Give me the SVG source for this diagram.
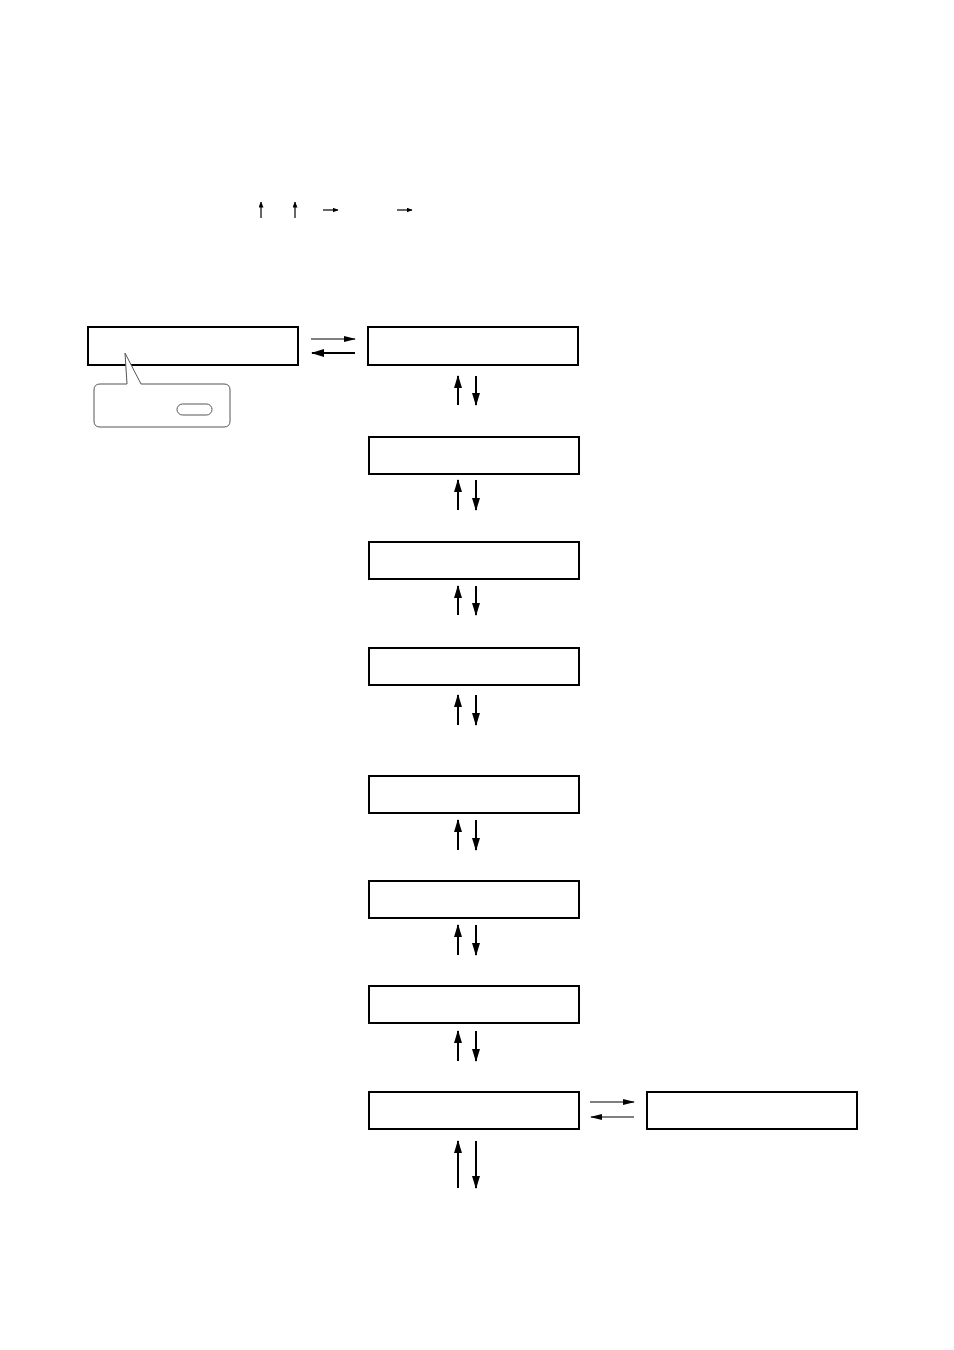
<svg xmlns="http://www.w3.org/2000/svg" width="954" height="1350" viewBox="0 0 954 1350">
<style>
.box{fill:#fff;stroke:#000;stroke-width:2}
.ln{stroke:#000;stroke-width:2;fill:none}
.th{stroke:#000;stroke-width:1.2;fill:none}
.call{fill:#fff;stroke:#555;stroke-width:1}
</style>
<defs>
<marker id="ah" viewBox="0 0 13 8" refX="12" refY="4" markerWidth="13" markerHeight="8" orient="auto" markerUnits="userSpaceOnUse"><path d="M0,0 L13,4 L0,8 z" fill="#000"/></marker>
<marker id="aht" viewBox="0 0 12 6" refX="11" refY="3" markerWidth="12" markerHeight="6" orient="auto" markerUnits="userSpaceOnUse"><path d="M0,0 L12,3 L0,6 z" fill="#000"/></marker>
<marker id="ahs" viewBox="0 0 6 5" refX="5.5" refY="2.5" markerWidth="6" markerHeight="5" orient="auto" markerUnits="userSpaceOnUse"><path d="M0,0 L6,2.5 L0,5 z" fill="#000"/></marker>
</defs>
<g id="legend">
<line class="th" x1="261" y1="218" x2="261" y2="202" marker-end="url(#ahs)"/>
<line class="th" x1="295" y1="218" x2="295" y2="202" marker-end="url(#ahs)"/>
<line class="th" x1="323" y1="210" x2="338" y2="210" marker-end="url(#ahs)"/>
<line class="th" x1="397" y1="210" x2="412" y2="210" marker-end="url(#ahs)"/>
</g>
<g id="n0"><rect class="box" x="88" y="327" width="210" height="38"/></g>
<g id="callout">
<path class="call" d="M100,384 H127 L125,353 L141,384 H224 Q230,384 230,390 V421 Q230,427 224,427 H100 Q94,427 94,421 V390 Q94,384 100,384 Z"/>
<rect class="call" x="177" y="404" width="35" height="11" rx="5.5"/>
</g>
<g id="n1"><rect class="box" x="368" y="327" width="210" height="38"/></g>
<g id="n2"><rect class="box" x="369" y="437" width="210" height="37"/></g>
<g id="n3"><rect class="box" x="369" y="542" width="210" height="37"/></g>
<g id="n4"><rect class="box" x="369" y="648" width="210" height="37"/></g>
<g id="n5"><rect class="box" x="369" y="776" width="210" height="37"/></g>
<g id="n6"><rect class="box" x="369" y="881" width="210" height="37"/></g>
<g id="n7"><rect class="box" x="369" y="986" width="210" height="37"/></g>
<g id="n8"><rect class="box" x="369" y="1092" width="210" height="37"/></g>
<g id="n9"><rect class="box" x="647" y="1092" width="210" height="37"/></g>
<g id="connectors">
<line class="th" x1="311" y1="339" x2="355" y2="339" marker-end="url(#aht)"/>
<line class="ln" x1="355" y1="353" x2="312" y2="353" marker-end="url(#ah)"/>
<line class="th" x1="590" y1="1102" x2="634" y2="1102" marker-end="url(#aht)"/>
<line class="th" x1="634" y1="1117" x2="591" y2="1117" marker-end="url(#aht)"/>
<line class="ln" x1="458" y1="405" x2="458" y2="376" marker-end="url(#ah)"/>
<line class="ln" x1="476" y1="376" x2="476" y2="405" marker-end="url(#ah)"/>
<line class="ln" x1="458" y1="510" x2="458" y2="480" marker-end="url(#ah)"/>
<line class="ln" x1="476" y1="480" x2="476" y2="510" marker-end="url(#ah)"/>
<line class="ln" x1="458" y1="615" x2="458" y2="586" marker-end="url(#ah)"/>
<line class="ln" x1="476" y1="586" x2="476" y2="615" marker-end="url(#ah)"/>
<line class="ln" x1="458" y1="725" x2="458" y2="695" marker-end="url(#ah)"/>
<line class="ln" x1="476" y1="695" x2="476" y2="725" marker-end="url(#ah)"/>
<line class="ln" x1="458" y1="850" x2="458" y2="820" marker-end="url(#ah)"/>
<line class="ln" x1="476" y1="820" x2="476" y2="850" marker-end="url(#ah)"/>
<line class="ln" x1="458" y1="955" x2="458" y2="925" marker-end="url(#ah)"/>
<line class="ln" x1="476" y1="925" x2="476" y2="955" marker-end="url(#ah)"/>
<line class="ln" x1="458" y1="1061" x2="458" y2="1031" marker-end="url(#ah)"/>
<line class="ln" x1="476" y1="1031" x2="476" y2="1061" marker-end="url(#ah)"/>
<line class="ln" x1="458" y1="1188" x2="458" y2="1141" marker-end="url(#ah)"/>
<line class="ln" x1="476" y1="1141" x2="476" y2="1188" marker-end="url(#ah)"/>
</g>
</svg>
